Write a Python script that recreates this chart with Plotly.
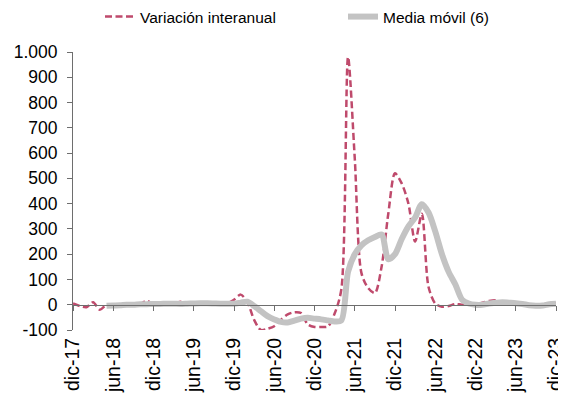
import plotly.graph_objects as go

# Month labels (dic-17 .. dic-23)
nombres = ["ene", "feb", "mar", "abr", "may", "jun", "jul", "ago", "sep", "oct", "nov", "dic"]
meses = ["dic-17"] + [f"{nombres[i % 12]}-{18 + i // 12}" for i in range(72)]

# Variación interanual (%), monthly
variacion = [
    5, -5, -10, 10, -20, 0, 2, -2, 5, 0, 3, 15,          # dic-17 .. nov-18
    2, 0, 5, 3, 12, 0, 5, 8, 5, 3, 2, 5,                 # dic-18 .. nov-19
    20, 40, 10, -60, -100, -95, -85, -60, -38, -30, -33, -78,   # dic-19 .. nov-20
    -88, -88, -86, -35, 60, 980, 580, 125, 66, 46, 150, 360,     # dic-20 .. nov-21
    520, 480, 400, 250, 360, 70, 5, -8, -5, 3, 0, 5,             # dic-21 .. nov-22
    3, 8, 15, 18, 10, 5, 5, 3, 0, -3, 0, 8,                      # dic-22 .. nov-23
    5,                                                          # dic-23
]

# Media móvil (6), monthly (starts in may-18)
media_movil = [
    None, None, None, None, None, -4, -3, -2, 0, 0, 2, 2,
    3, 3, 4, 4, 3, 4, 5, 6, 6, 5, 4, 4,
    4, 8, 12, -5, -25, -45, -58, -68, -70, -63, -55, -52,
    -55, -58, -62, -66, -62, 130, 200, 235, 255, 268, 278, 180,
    200, 260, 310, 345, 398, 365, 290, 200, 130, 80, 20, 5,
    0, 0, 5, 8, 10, 8, 6, 3, -2, -4, -3, 2,
    4,
]

y_ticks = list(range(-100, 1001, 100))
y_ticktext = [f"{v:,}".replace(",", ".") for v in y_ticks]

x_idx = list(range(len(meses)))
x_tickvals = x_idx[::6]
x_ticktext = meses[::6]

axis_color = "#6e6e6e"
font_family = "Liberation Sans, Arial, sans-serif"

# page body adds an 8px offset; the figure is sized to end at the window edge
W, H = 558, 393
M_L, M_R, M_T, M_B = 65, 10, 0, 71
plot_h = H - M_T - M_B
dom_top = (H - M_B - 44) / plot_h     # value 1000 at ~44 px in figure coords
legend_y = (H - M_B - 9) / plot_h     # legend row at ~9 px

y_min, y_max = -100, 1000
zero_pos = dom_top * (0 - y_min) / (y_max - y_min)

fig = go.Figure()
fig.add_trace(go.Scatter(
    x=x_idx, y=variacion, name="Variación interanual", mode="lines",
    line=dict(color="#BF4A6C", width=2.5, dash="7px,3.5px", shape="spline", smoothing=0.8),
    customdata=meses, hovertemplate="%{customdata}: %{y}<extra></extra>",
    legend="legend",
))
fig.add_trace(go.Scatter(
    x=x_idx, y=media_movil, name="Media móvil (6)", mode="lines",
    line=dict(color="#C3C3C3", width=6, shape="spline", smoothing=0.8),
    customdata=meses, hovertemplate="%{customdata}: %{y}<extra></extra>",
    legend="legend2",
))
# invisible trace so the zero-line axis (xaxis2) is rendered
fig.add_trace(go.Scatter(x=[0, 72], y=[None, None], xaxis="x2", showlegend=False,
                         hoverinfo="skip", mode="lines"))

leg_common = dict(
    orientation="h", yanchor="middle", y=legend_y, xanchor="left",
    font=dict(size=15.5, family=font_family),
    bgcolor="rgba(0,0,0,0)", itemclick=False, itemdoubleclick=False,
)

fig.update_layout(
    width=W, height=H,
    margin=dict(l=M_L, r=M_R, t=M_T, b=M_B, autoexpand=False),
    paper_bgcolor="white", plot_bgcolor="white",
    font=dict(family=font_family, size=17, color="#000000"),
    showlegend=True,
    legend=dict(x=(92 - M_L) / (W - M_L - M_R), **leg_common),
    legend2=dict(x=(335 - M_L) / (W - M_L - M_R), **leg_common),
    xaxis=dict(
        range=[0, 72], tickvals=x_tickvals, ticktext=x_ticktext,
        tickangle=-90, showline=False, ticks="", showgrid=False, zeroline=False,
        tickfont=dict(size=19.5), ticklabelstandoff=3, automargin=False,
        ticklabeloverflow="allow",
    ),
    xaxis2=dict(
        range=[0, 72], overlaying="x", anchor="free", position=zero_pos,
        side="bottom", tickvals=x_tickvals, showticklabels=False,
        ticks="outside", ticklen=5, tickcolor=axis_color, tickwidth=1,
        showline=True, linecolor=axis_color, linewidth=1, showgrid=False, zeroline=False,
    ),
    yaxis=dict(
        domain=[0, dom_top],
        range=[y_min, y_max], tickvals=y_ticks, ticktext=y_ticktext,
        ticks="outside", ticklen=5, tickcolor=axis_color,
        showline=True, linecolor=axis_color, linewidth=1,
        showgrid=False, zeroline=False, tickfont=dict(size=17.5),
        ticklabelstandoff=6, automargin=False,
    ),
)

fig.write_html("out.html")
